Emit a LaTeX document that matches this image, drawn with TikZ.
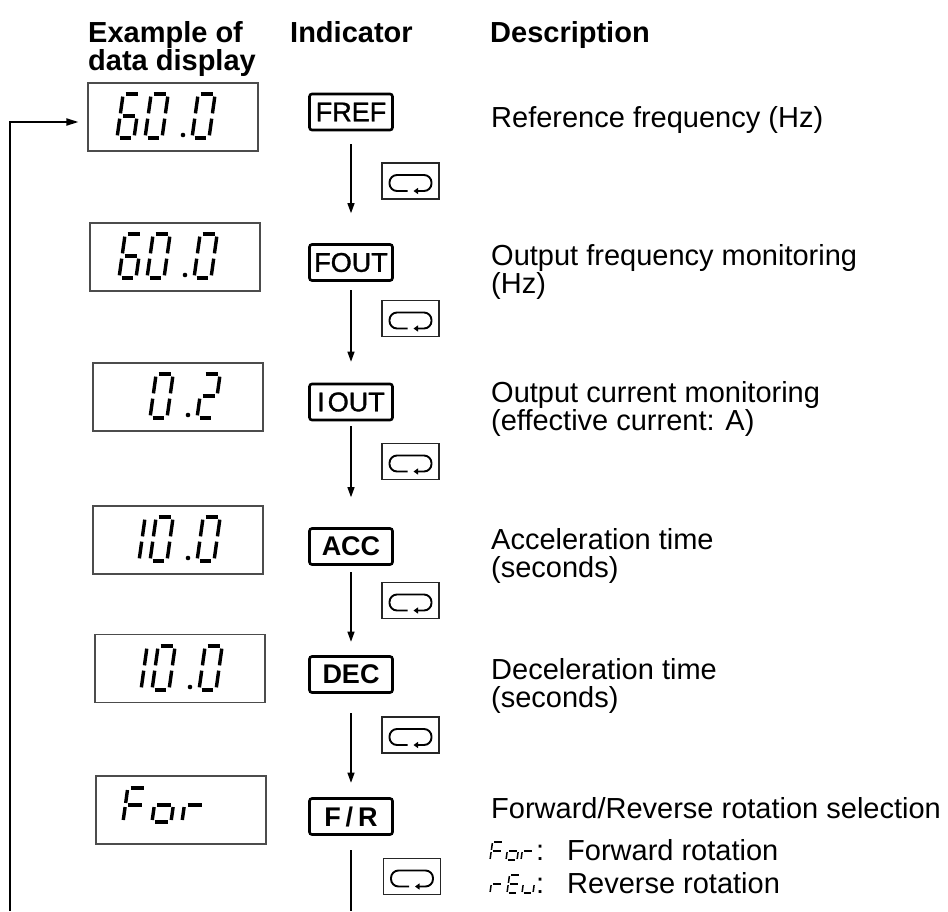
\documentclass[tikz,border=0pt]{standalone}
\usepackage{fontspec}
\setmainfont{Liberation Sans}
\newfontfamily\indfont[FakeBold=1.3]{Liberation Sans}
\usetikzlibrary{arrows.meta,calc}

% seven-segment segment paths in a unit frame (width 1, height 2)
\def\zsga{(0.15,2) -- (0.85,2)}
\def\zsgb{(1,1.88) -- (1,1.12)}
\def\zsgc{(1,0.88) -- (1,0.12)}
\def\zsgd{(0.15,0) -- (0.85,0)}
\def\zsge{(0,0.88) -- (0,0.12)}
\def\zsgf{(0,1.88) -- (0,1.12)}
\def\zsgg{(0.15,1) -- (0.85,1)}

% #1 x, #2 y (bottom, page y down), #3 width, #4 half height, #5 line width, #6 segments
\newcommand\segchar[6]{%
  \begin{scope}[shift={(#1,#2)},yscale=-1,xslant=-0.14,xscale=#3,yscale=#4]
    \foreach \s in {#6}{\draw[line width=#5pt,line cap=butt] \csname zsg\s\endcsname;}
  \end{scope}}

\tikzset{
  disp/.style={draw=black!70,line width=1.1pt,minimum width=170pt,minimum height=68pt,inner sep=0pt},
  ind/.style={draw,line width=2.6pt,rounded corners=2.5pt,minimum width=83pt,minimum height=36pt,inner sep=0pt,font=\indfont\fontsize{27}{27}\selectfont},
  indb/.style={ind,font=\bfseries\fontsize{27}{27}\selectfont},
  keybox/.style={draw=black!85,line width=1.2pt,minimum width=57pt,minimum height=36pt,inner sep=0pt},
  conn/.style={line width=1.3pt,-{Triangle[length=10pt,width=7pt]}},
  desc/.style={anchor=base west,inner sep=0pt,font=\fontsize{29}{29}\selectfont},
  head/.style={anchor=base west,inner sep=0pt,font=\bfseries\fontsize{29}{29}\selectfont},
  loopkey/.pic={\draw[line width=1.9pt,rounded corners=7.5pt,-{Triangle[length=4.5pt,width=6pt]}]
     (-3,10) -- (-21,10) -- (-21,-6) -- (21,-6) -- (21,10) -- (3,10);}
}

\begin{document}
\begin{tikzpicture}[x=1pt,y=-1pt]
\useasboundingbox (0,0) rectangle (948,911);

% headers
\node[head] (h1a) at (88,42.5) {Example of};
\node[head] (h1b) at (88,70.5) {data display};
\node[head] (h2) at (290,42.5) {Indicator};
\node[head] (h3) at (490,42.5) {Description};

% display boxes
\node[disp] (disp1) at (173,117) {};
\node[disp] (disp2) at (175,257) {};
\node[disp] (disp3) at (178,397) {};
\node[disp] (disp4) at (178,540) {};
\node[disp] (disp5) at (180,668.5) {};
\node[disp] (disp6) at (181,810) {};

% display contents
\segchar{117}{138}{17}{22}{3.4}{a,c,d,e,f,g}
\segchar{145}{138}{17}{22}{3.4}{a,b,c,d,e,f}
\fill (183,135) circle (2.3pt);
\segchar{192}{138}{17}{22}{3.4}{a,b,c,d,e,f}

\segchar{119}{278}{17}{22}{3.4}{a,c,d,e,f,g}
\segchar{147}{278}{17}{22}{3.4}{a,b,c,d,e,f}
\fill (185,275) circle (2.3pt);
\segchar{194}{278}{17}{22}{3.4}{a,b,c,d,e,f}

\segchar{150}{418}{17}{22}{3.4}{a,b,c,d,e,f}
\fill (188,415) circle (2.3pt);
\segchar{197}{418}{17}{22}{3.4}{a,b,d,e,g}

\segchar{122}{561}{17}{22}{3.4}{b,c}
\segchar{150}{561}{17}{22}{3.4}{a,b,c,d,e,f}
\fill (188,558) circle (2.3pt);
\segchar{197}{561}{17}{22}{3.4}{a,b,c,d,e,f}

\segchar{124}{690}{17}{22}{3.4}{b,c}
\segchar{152}{690}{17}{22}{3.4}{a,b,c,d,e,f}
\fill (190,687) circle (2.3pt);
\segchar{199}{690}{17}{22}{3.4}{a,b,c,d,e,f}

\segchar{123}{822}{19}{17}{3.4}{a,e,f,g}
\segchar{152}{822}{19}{17}{3.4}{c,d,e,g}
\segchar{182}{822}{21}{17}{3.4}{e,g}

% indicators
\node[ind] (i1) at (351,112) {FREF};
\node[ind] (i2) at (351,262.5) {FOUT};
\node[ind] (i3) at (351,402) {I\hspace{3pt}OUT};
\node[indb] (i4) at (351,546.5) {ACC};
\node[indb] (i5) at (351,674.5) {DEC};
\node[indb] (i6) at (351,816.5) {F\hspace{5pt}/\hspace{5pt}R};
\coordinate (iend) at (351,911);

% connectors
\draw[conn,shorten <=13pt,shorten >=30pt] (i1) -- (i2);
\draw[conn,shorten <=8.5pt,shorten >=21pt] (i2) -- (i3);
\draw[conn,shorten <=5pt,shorten >=30pt] (i3) -- (i4);
\draw[conn,shorten <=6.5pt,shorten >=13.5pt] (i4) -- (i5);
\draw[conn,shorten <=19.5pt,shorten >=14.5pt] (i5) -- (i6);
\draw[line width=1.3pt,shorten <=14.5pt] (i6) -- (iend);

% key symbols
\node[keybox] (k1) at (410.5,181) {};
\node[keybox] (k2) at (410.5,318.5) {};
\node[keybox] (k3) at (410.5,461.5) {};
\node[keybox] (k4) at (410.5,600.5) {};
\node[keybox] (k5) at (410.5,735) {};
\node[keybox] (k6) at (412,876.5) {};
\foreach \k in {k1,k2,k3,k4,k5,k6} {\pic at (\k.center) {loopkey};}

% return loop
\coordinate (lb) at (10,911);
\draw[line width=1.8pt,-{Triangle[length=12pt,width=7pt]},shorten >=9pt] (lb) |- ([yshift=-5pt]disp1.west);

% descriptions
\node[desc] (d1) at (491,127) {Reference frequency (Hz)};
\node[desc] (d2a) at (491,265) {Output frequency monitoring};
\node[desc] (d2b) at (491,293) {(Hz)};
\node[desc] (d3a) at (491,402) {Output current monitoring};
\node[desc] (d3b) at (491,430) {(effective current: A)};
\node[desc] (d4a) at (491,549) {Acceleration time};
\node[desc] (d4b) at (491,577) {(seconds)};
\node[desc] (d5a) at (491,679) {Deceleration time};
\node[desc] (d5b) at (491,707) {(seconds)};
\node[desc] (d6) at (491,818) {Forward/Reverse rotation selection};

\segchar{490}{860}{11}{9}{1.5}{a,e,f,g}
\segchar{506}{860}{11}{9}{1.5}{c,d,e,g}
\segchar{521}{860}{11}{9}{1.5}{e,g}
\node[desc] (c1) at (536,860) {:};
\node[desc] (t1) at (567,860) {Forward rotation};

\segchar{490}{893}{11}{9}{1.5}{e,g}
\segchar{507}{893}{11}{9}{1.5}{a,d,e,f,g}
\segchar{522}{893}{11}{9}{1.5}{c,d,e}
\node[desc] (c2) at (536,893) {:};
\node[desc] (t2) at (567,893) {Reverse rotation};
\end{tikzpicture}
\end{document}
